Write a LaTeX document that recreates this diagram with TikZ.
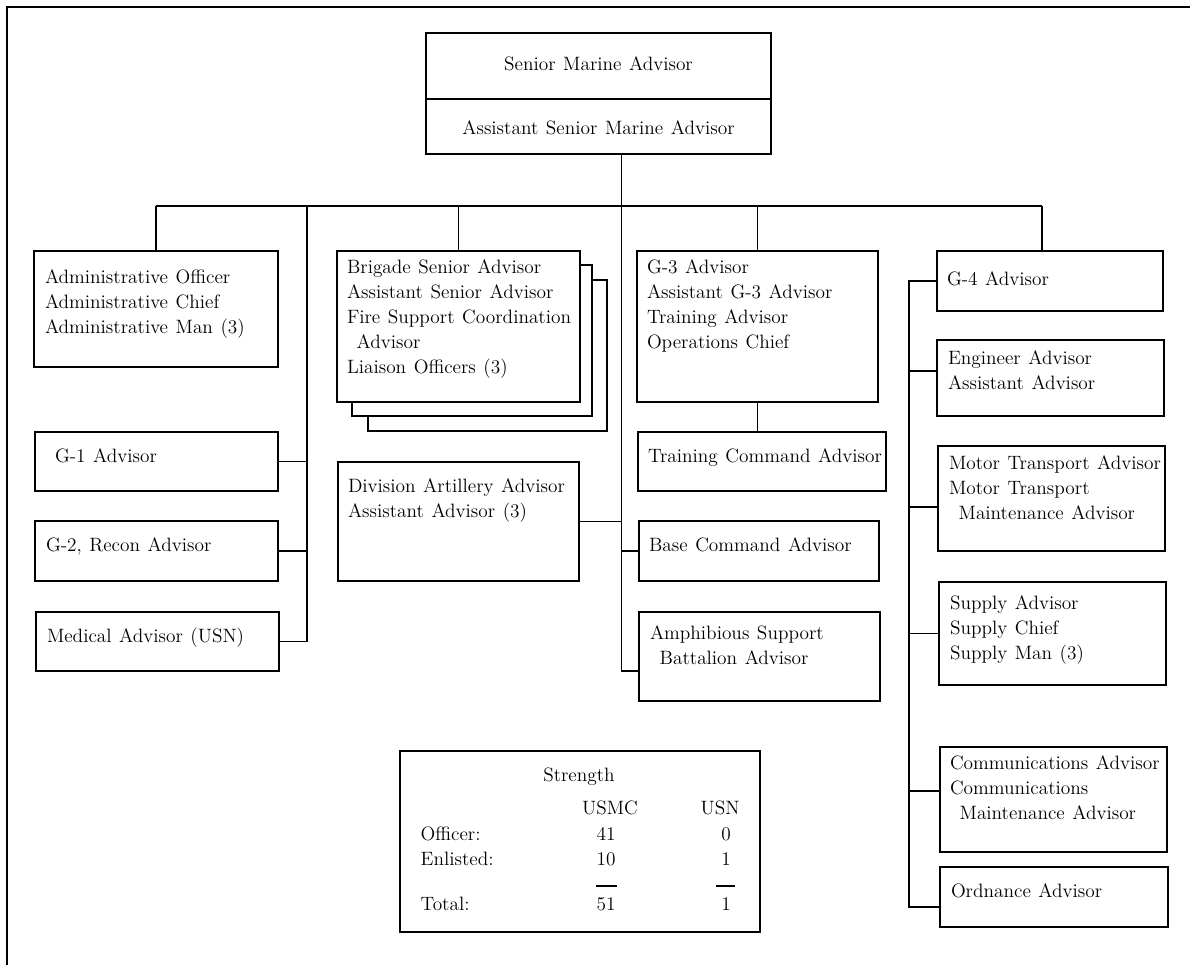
\documentclass[tikz,border=0pt]{standalone}
\usepackage{tikz}
\usetikzlibrary{calc,fit,positioning}
\newcommand\chartfont{\fontsize{11}{14.2}\selectfont\spaceskip=4.3pt plus 1pt minus 1pt\relax}

\begin{document}
\begin{tikzpicture}[x=0.02cm, y=-0.02cm, line width=0.75pt,
    font=\chartfont,
    unit/.style={draw, fill=white, inner sep=0pt},
    txt/.style={anchor=north west, inner sep=0pt, align=left},
    num/.style={anchor=base, inner sep=0pt}]
    \useasboundingbox (0,0) rectangle (1190,965);
    % Draw the frame (only top and left edges show)
    \draw (7,965) -- (7,7) -- (1190,7);
    % Draw the senior advisor box
    \node[unit, fit={(426,33) (771,99)}] (senior) {};
    \node[unit, fit={(426,99) (771,154)}] (asst) {};
    \node (seniortx) at ($(senior.center)+(0,-2)$) {Senior Marine Advisor};
    \node (assttx) at ($(asst.center)+(0,1)$) {Assistant Senior Marine Advisor};
    % Draw the staff boxes (pre-measured)
    \node[unit, fit={(34,251) (278,367)}] (adm) {};
    \node[unit, fit={(368,280) (607,431)}] (brig3) {};
    \node[unit, fit={(352,265) (592,416)}] (brig2) {};
    \node[unit, fit={(337,251) (580,402)}] (brig) {};
    \node[unit, fit={(637,251) (878,402)}] (g3) {};
    \node[unit, fit={(937,251) (1163,311)}] (g4) {};
    \node[unit, fit={(937,340) (1164,416)}] (eng) {};
    \node[unit, fit={(35,432) (278,491)}] (g1) {};
    \node[unit, fit={(35,521) (278,581)}] (g2) {};
    \node[unit, fit={(36,612) (279,671)}] (med) {};
    \node[unit, fit={(338,462) (579,581)}] (divart) {};
    \node[unit, fit={(638,432) (886,491)}] (trn) {};
    \node[unit, fit={(639,521) (879,581)}] (base) {};
    \node[unit, fit={(639,612) (880,701)}] (amph) {};
    \node[unit, fit={(938,446) (1165,551)}] (motor) {};
    \node[unit, fit={(939,582) (1166,685)}] (supply) {};
    \node[unit, fit={(940,747) (1167,852)}] (comm) {};
    \node[unit, fit={(940,867) (1168,927)}] (ord) {};
    % Draw the box texts
    \node[txt] (admtx) at ($(adm.north west)+(11,19)$) {Administrative Officer\\Administrative Chief\\Administrative Man (3)};
    \node[txt] (brigtx) at ($(brig.north west)+(10,9)$) {Brigade Senior Advisor\\Assistant Senior Advisor\\Fire Support Coordination\\\hspace*{.5em}Advisor\\Liaison Officers (3)};
    \node[txt] (g3tx) at ($(g3.north west)+(10,9)$) {G-3 Advisor\\Assistant G-3 Advisor\\Training Advisor\\Operations Chief};
    \node[txt] (g4tx) at ($(g4.north west)+(10,21)$) {G-4 Advisor};
    \node[txt] (engtx) at ($(eng.north west)+(11,11)$) {Engineer Advisor\\Assistant Advisor};
    \node[txt] (g1tx) at ($(g1.north west)+(20,17)$) {G-1 Advisor};
    \node[txt] (g2tx) at ($(g2.north west)+(11,17)$) {G-2, Recon Advisor};
    \node[txt] (medtx) at ($(med.north west)+(11,16)$) {Medical Advisor (USN)};
    \node[txt] (divarttx) at ($(divart.north west)+(10,17)$) {Division Artillery Advisor\\Assistant Advisor (3)};
    \node[txt] (trntx) at ($(trn.north west)+(10,17)$) {Training Command Advisor};
    \node[txt] (basetx) at ($(base.north west)+(10,17)$) {Base Command Advisor};
    \node[txt] (amphtx) at ($(amph.north west)+(11,14)$) {Amphibious Support\\\hspace*{.5em}Battalion Advisor};
    \node[txt] (motortx) at ($(motor.north west)+(11,10)$) {Motor Transport Advisor\\Motor Transport\\\hspace*{.5em}Maintenance Advisor};
    \node[txt] (supplytx) at ($(supply.north west)+(11,14)$) {Supply Advisor\\Supply Chief\\Supply Man (3)};
    \node[txt] (commtx) at ($(comm.north west)+(10,9)$) {Communications Advisor\\Communications\\\hspace*{.5em}Maintenance Advisor};
    \node[txt] (ordtx) at ($(ord.north west)+(11,17)$) {Ordnance Advisor};
    % Draw the connectors
    \coordinate (bus) at (0,206);
    \coordinate (staff) at (307,206);
    \coordinate (logs) at (1042,206);
    \coordinate (supcol) at (909,0);
    \coordinate (trunk) at ($(asst.south)+(23,0)$);
    \coordinate (amphj) at ([yshift=-0.29cm]amph.west);
    \coordinate (engj) at ([yshift=0.14cm]eng.west);
    \coordinate (motorj) at ([yshift=-0.17cm]motor.west);
    \coordinate (commj) at ([yshift=0.17cm]comm.west);
    \coordinate (ordj) at ([yshift=-0.2cm]ord.west);
    \draw (adm.north |- bus) -- (logs);
    \draw (adm.north |- bus) -- (adm.north);
    \draw (brig.north |- bus) -- (brig.north);
    \draw (g3.north |- bus) -- (g3.north);
    \draw (logs) -- (logs |- g4.north);
    \draw (staff) |- (med.east);
    \draw (g1.east) -- (g1.east -| staff);
    \draw (g2.east) -- (g2.east -| staff);
    \draw (trunk) |- (amphj);
    \draw (divart.east) -- (divart.east -| trunk);
    \draw (base.west) -- (base.west -| trunk);
    \draw (g3.south) -- (g3.south |- trn.north);
    \draw (g4.west) -- (g4.west -| supcol) -- (ordj -| supcol) -- (ordj);
    \draw (engj) -- (engj -| supcol);
    \draw (motorj) -- (motorj -| supcol);
    \draw (supply.west) -- (supply.west -| supcol);
    \draw (commj) -- (commj -| supcol);
    % Draw the strength table
    \node[unit, fit={(400,751) (760,932)}] (str) {};
    \node[num] (strhd) at (579,781) {Strength};
    \node[num] (usmc) at (610,814) {USMC};
    \node[num] (usn) at (720,814) {USN};
    \node[num, anchor=base west] (offlab) at (420,840) {Officer:};
    \node[num, anchor=base west] (enllab) at (420,865) {Enlisted:};
    \node[num, anchor=base west] (totlab) at (420,910) {Total:};
    \node[num] (offm) at (606,840) {41};
    \node[num] (offn) at (726,840) {0};
    \node[num] (enlm) at (606,865) {10};
    \node[num] (enln) at (726,865) {1};
    \node[num] (totm) at (606,910) {51};
    \node[num] (totn) at (726,910) {1};
    \draw (596,886) -- (617,886);
    \draw (716,886) -- (735,886);
\end{tikzpicture}
\end{document}
